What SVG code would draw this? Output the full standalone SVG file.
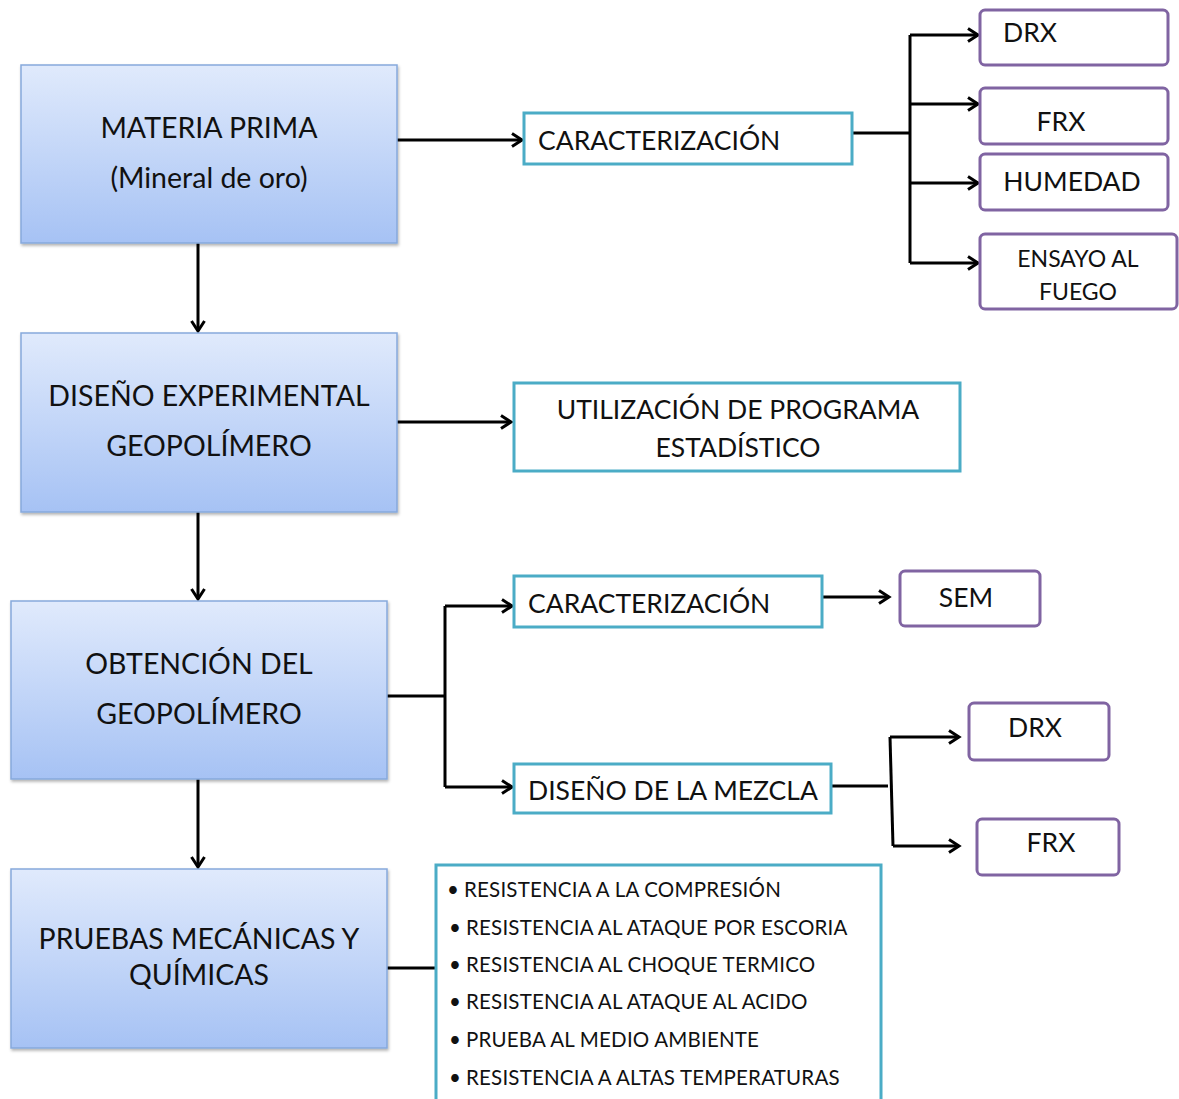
<svg xmlns="http://www.w3.org/2000/svg" width="1179" height="1099" viewBox="0 0 1179 1099">
<style>
text{font-family:Lato,"Liberation Sans",sans-serif;fill:#111;}
.big{font-size:28.5px;}
.mid{font-size:26.5px;}
.sm{font-size:20.5px;letter-spacing:0.2px;}
.main{fill:url(#g);stroke:#86a9dc;stroke-width:1.5;filter:url(#sh);}
.cy{fill:#fff;stroke:#4bacc6;stroke-width:3;}
.pu{fill:#fff;stroke:#8064a2;stroke-width:3;}
.c{fill:none;stroke:#000;stroke-width:3;}
.a{marker-end:url(#ar);}
</style>
<defs>
<linearGradient id="g" x1="0" y1="0" x2="0" y2="1">
<stop offset="0" stop-color="#e0eafc"/>
<stop offset="1" stop-color="#a6c2f4"/>
</linearGradient>
<filter id="sh" x="-5%" y="-5%" width="115%" height="115%">
<feDropShadow dx="1" dy="2" stdDeviation="1.5" flood-color="#000" flood-opacity="0.3"/>
</filter>
<marker id="ar" markerWidth="16" markerHeight="16" refX="12" refY="8" orient="auto" markerUnits="userSpaceOnUse">
<path d="M2,1.5 L12,8 L2,14.5" fill="none" stroke="#000" stroke-width="3"/>
</marker>
</defs>
<g id="connectors">
<path class="c a" d="M397,140 H522"/>
<path class="c" d="M852,133 H910"/>
<path class="c" d="M910,35 V263"/>
<path class="c a" d="M910,35 H978"/>
<path class="c a" d="M910,104 H978"/>
<path class="c a" d="M910,183 H978"/>
<path class="c a" d="M910,263 H978"/>
<path class="c a" d="M198,243 V331"/>
<path class="c a" d="M397,422 H511"/>
<path class="c a" d="M198,512 V599"/>
<path class="c" d="M387,696 H445"/>
<path class="c" d="M445,606 V787"/>
<path class="c a" d="M445,606 H512"/>
<path class="c a" d="M445,787 H512"/>
<path class="c a" d="M822,597 H889"/>
<path class="c" d="M831,786 H888"/>
<path class="c" d="M890,737 L893,846"/>
<path class="c a" d="M890,737 H959"/>
<path class="c a" d="M893,846 H959"/>
<path class="c a" d="M198,779 V867"/>
<path class="c" d="M387,968 H435"/>
</g>
<g id="n1"><rect class="main" x="21" y="65" width="376" height="178"/>
<text class="big" x="209" y="138" text-anchor="middle">MATERIA PRIMA</text>
<text class="big" x="209" y="188" text-anchor="middle">(Mineral de oro)</text></g>
<g id="n2"><rect class="main" x="21" y="333" width="376" height="179"/>
<text class="big" x="209" y="406" text-anchor="middle">DISEÑO EXPERIMENTAL</text>
<text class="big" x="209" y="456" text-anchor="middle">GEOPOLÍMERO</text></g>
<g id="n3"><rect class="main" x="11" y="601" width="376" height="178"/>
<text class="big" x="199" y="674" text-anchor="middle">OBTENCIÓN DEL</text>
<text class="big" x="199" y="724" text-anchor="middle">GEOPOLÍMERO</text></g>
<g id="n4"><rect class="main" x="11" y="869" width="376" height="179"/>
<text class="big" x="199" y="949" text-anchor="middle">PRUEBAS MECÁNICAS Y</text>
<text class="big" x="199" y="985" text-anchor="middle">QUÍMICAS</text></g>
<g id="n5"><rect class="cy" x="524" y="113" width="328" height="51"/>
<text class="mid" x="538" y="150">CARACTERIZACIÓN</text></g>
<g id="n6"><rect class="cy" x="514" y="383" width="446" height="88"/>
<text class="mid" x="738" y="419" text-anchor="middle">UTILIZACIÓN DE PROGRAMA</text>
<text class="mid" x="738" y="457" text-anchor="middle">ESTADÍSTICO</text></g>
<g id="n7"><rect class="cy" x="514" y="576" width="308" height="51"/>
<text class="mid" x="528" y="613">CARACTERIZACIÓN</text></g>
<g id="n8"><rect class="cy" x="514" y="764" width="317" height="49"/>
<text class="mid" x="528" y="800">DISEÑO DE LA MEZCLA</text></g>
<g id="n9"><rect class="cy" x="436" y="865" width="445" height="240"/>
<text class="sm" x="447" y="897">•</text><text class="sm" x="464" y="897">RESISTENCIA A LA COMPRESIÓN</text>
<text class="sm" x="449" y="935">•</text><text class="sm" x="466" y="935">RESISTENCIA AL ATAQUE POR ESCORIA</text>
<text class="sm" x="449" y="972">•</text><text class="sm" x="466" y="972">RESISTENCIA AL CHOQUE TERMICO</text>
<text class="sm" x="449" y="1009">•</text><text class="sm" x="466" y="1009">RESISTENCIA AL ATAQUE AL ACIDO</text>
<text class="sm" x="449" y="1047">•</text><text class="sm" x="466" y="1047">PRUEBA AL MEDIO AMBIENTE</text>
<text class="sm" x="449" y="1085">•</text><text class="sm" x="466" y="1085">RESISTENCIA A ALTAS TEMPERATURAS</text></g>
<g id="n10"><rect class="pu" x="980" y="10" width="188" height="55" rx="5"/>
<text class="mid" x="1003" y="42">DRX</text></g>
<g id="n11"><rect class="pu" x="980" y="88" width="188" height="56" rx="5"/>
<text class="mid" x="1061" y="131" text-anchor="middle">FRX</text></g>
<g id="n12"><rect class="pu" x="980" y="154" width="188" height="56" rx="5"/>
<text class="mid" x="1072" y="191" text-anchor="middle">HUMEDAD</text></g>
<g id="n13"><rect class="pu" x="980" y="234" width="197" height="75" rx="5"/>
<text x="1078" y="267" text-anchor="middle" style="font-size:23px">ENSAYO AL</text>
<text x="1078" y="300" text-anchor="middle" style="font-size:23px">FUEGO</text></g>
<g id="n14"><rect class="pu" x="900" y="571" width="140" height="55" rx="5"/>
<text class="mid" x="966" y="607" text-anchor="middle">SEM</text></g>
<g id="n15"><rect class="pu" x="969" y="703" width="140" height="57" rx="5"/>
<text class="mid" x="1035" y="737" text-anchor="middle">DRX</text></g>
<g id="n16"><rect class="pu" x="977" y="819" width="142" height="56" rx="5"/>
<text class="mid" x="1051" y="852" text-anchor="middle">FRX</text></g>
</svg>
